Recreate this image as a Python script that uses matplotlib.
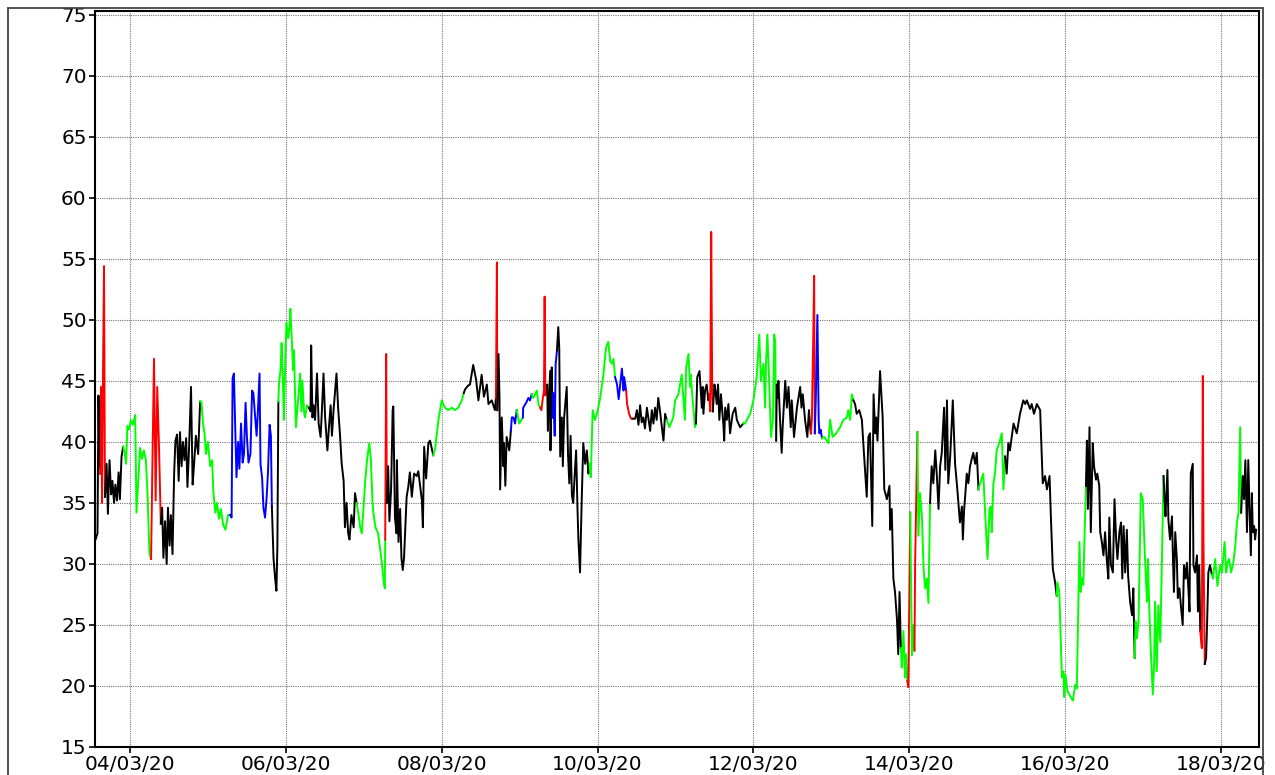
import datetime as dt
import numpy as np
import matplotlib
matplotlib.use("Agg")
import matplotlib.pyplot as plt
import matplotlib.dates as mdates
from matplotlib.patches import Rectangle

start = dt.datetime(2020, 3, 3, 13, 0)

# hours since start, one line per colour run
hours = [
    0.4, 1.0, 1.3, 1.6, 1.8, 1.9,
    2.1, 2.4, 2.7, 3.0, 3.3,
    3.8, 4.2, 4.7, 5.2, 5.6, 6.1, 6.5, 7.0, 7.5, 7.9, 8.4, 8.9,
    9.3, 9.8, 10.2, 10.7, 11.3, 11.9, 12.6, 13.0, 13.6, 14.1, 14.7, 15.3, 15.9, 16.4, 17.0, 17.5,
    17.9, 18.4, 18.9, 19.4, 19.9, 20.5,
    20.9, 21.3, 21.8, 22.3, 22.7, 23.2, 23.6, 24.1, 24.6, 25.0, 25.5, 26.0, 26.4, 26.9, 27.3, 27.8,
    28.3, 28.7, 29.2, 29.8, 30.3, 30.7, 31.3, 32.0, 32.6,
    33.0, 33.5, 34.0, 34.4, 35.0, 35.7, 36.3, 36.7, 37.3, 37.8, 38.4, 39.0, 39.7, 40.4, 41.2, 41.8,
    42.3, 42.6, 43.0, 43.8, 44.3, 44.7, 45.2, 45.7, 46.1, 46.6, 47.0, 47.5, 48.1, 48.6, 49.0, 49.5,
    50.0, 50.4, 50.9, 51.2, 51.7, 52.1, 52.6, 53.1, 53.5, 54.0, 54.4, 54.7,
    55.2, 55.7, 56.1, 56.4, 56.7,
    56.9, 57.4, 57.7, 58.1, 58.4, 58.9, 59.2, 59.7, 60.1, 60.4, 60.9, 61.2, 61.5, 62.1, 62.8, 63.4,
    63.8, 64.1, 64.6, 64.9, 65.5, 66.1,
    66.6, 66.8, 67.2, 67.5, 68.0, 68.6, 69.1, 69.7, 70.1, 70.6, 71.1, 71.8, 72.3, 72.8, 73.2, 73.7,
    74.6, 75.1, 75.7, 76.2, 76.8, 77.2, 77.7, 78.2, 78.6, 79.2, 79.9, 80.3, 80.8,
    81.4, 81.9, 82.4, 82.9, 83.4, 84.0, 84.7, 85.2, 85.7, 86.0, 86.6, 87.4, 88.2, 88.6, 89.2, 89.5, 89.6,
    89.9, 90.1,
    90.5, 90.9, 91.4, 91.9, 92.1, 92.6, 93.1, 93.2, 93.7, 94.2, 94.6, 95.0, 95.4, 96.2, 96.7, 97.2,
    97.8, 98.5, 99.3, 99.8, 100.9, 101.2, 101.6, 102.2, 102.9, 103.4, 104.4,
    105.0, 106.0, 107.0, 108.0, 109.0, 110.1, 111.1, 112.1, 113.2, 113.8,
    114.2, 115.1, 115.7, 116.7, 117.6, 118.3, 119.3, 120.0, 120.9, 121.4, 122.4, 123.4, 123.7,
    124.0, 124.1,
    124.5, 124.8, 125.0, 125.5, 126.0, 126.2, 126.6, 127.0, 127.8, 128.3,
    128.6, 129.1, 129.6, 130.1,
    130.9, 132.0,
    132.1, 133.0, 133.7, 134.2, 134.7,
    135.2, 136.3, 136.8, 137.3,
    137.7, 138.1, 138.5, 138.7, 138.9, 139.4,
    139.5, 139.7, 140.4, 140.5, 140.9, 141.1,
    141.4, 141.8, 142.1, 142.5,
    142.9, 143.2, 143.5, 144.0, 144.3, 144.7, 145.5, 145.9, 146.3, 146.7, 147.1, 147.5, 148.1, 148.4,
    148.8, 149.1, 149.6, 150.1, 150.6, 151.2, 151.7, 152.2, 152.5,
    152.9, 153.5, 154.2, 155.0, 155.8, 156.8, 157.6, 158.3, 158.9, 159.4, 159.9, 160.4,
    161.0, 161.5, 161.9, 162.5, 163.0, 163.2, 163.8,
    164.1, 164.7, 165.3, 165.8,
    166.6, 167.1, 167.6, 168.1, 168.6, 169.1, 169.6, 170.2, 171.2, 171.7, 172.2, 172.7, 173.2, 173.7,
    174.2, 174.8, 175.3, 175.8, 176.3,
    177.1, 178.3, 178.9, 179.9, 180.9, 181.9, 182.3, 183.0, 183.5, 183.7, 184.3, 185.0, 185.3,
    185.7, 186.4, 187.1, 187.4, 187.6, 188.1, 188.6, 189.1, 189.4,
    189.7, 190.0, 190.3, 190.5,
    191.0, 191.3, 191.7, 192.1, 192.5, 193.0, 193.8, 194.0, 194.3, 194.8, 195.3, 195.8, 196.6, 197.4,
    197.9, 198.9, 199.9,
    200.4, 202.0, 203.0, 204.0, 204.8, 205.3, 206.1, 206.6, 206.9, 207.3, 207.7, 208.4, 209.0, 209.4,
    209.7, 210.0,
    210.2, 210.4, 210.7, 211.2, 211.7, 212.0, 212.8, 213.3, 213.8, 214.5, 214.8, 215.5, 216.4, 217.4,
    217.8, 218.2, 218.9, 219.6, 220.1, 220.5, 220.7,
    221.0, 221.5, 221.7, 221.9,
    222.2, 222.7, 223.1, 223.3, 223.7, 224.1,
    224.8, 225.6, 226.1, 226.6, 227.4, 228.5, 229.7, 230.7, 231.8, 232.2, 232.8, 233.3, 233.8,
    234.3, 234.8, 235.6, 236.4, 237.1, 237.9, 238.4, 238.9, 239.6, 240.0, 240.5, 240.8, 241.2, 242.0,
    242.8, 243.3, 244.1, 244.9, 245.1, 245.6, 246.1, 246.6, 247.2, 247.6, 248.0, 248.4,
    248.7, 249.2, 249.7, 250.0, 250.4,
    250.7, 251.3,
    251.8, 252.3, 252.6,
    252.8, 253.5,
    253.8, 254.3, 254.9, 255.4, 255.9, 256.4, 256.9, 257.4,
    257.6, 257.9, 258.4, 259.0, 259.5, 260.0, 260.5, 261.0, 261.7, 262.1, 262.6, 263.0, 263.6, 264.4,
    265.1, 265.8, 266.6, 267.2, 267.5, 267.9, 268.2, 268.7, 269.2, 269.7, 270.7, 271.3, 271.8, 272.3,
    272.8, 273.8, 274.3, 275.1, 275.7, 276.1, 276.4, 276.9, 277.4, 277.9, 278.7, 279.5, 280.0, 280.5,
    281.0, 281.5, 282.0, 283.1, 284.1, 285.1, 286.1, 286.7, 287.2, 288.2, 288.7, 289.4, 290.3, 291.3,
    292.1, 292.8, 293.4, 294.2, 294.6, 295.2, 295.9, 296.4,
    296.6, 297.2, 298.0, 298.5, 298.7, 299.1, 299.7, 300.3, 300.7, 301.4, 302.1, 302.6, 303.1, 303.4,
    303.8, 304.2, 304.6, 304.9, 305.4,
    305.7, 306.0, 306.5, 306.9, 307.5, 307.9, 308.5, 308.9, 309.5, 309.8, 310.3, 310.8, 311.3, 311.8,
    312.3, 312.6, 313.1, 313.7, 314.2, 314.7, 315.1, 315.7, 316.2, 316.6, 317.0, 317.5, 318.0, 318.4,
    319.0, 319.6, 320.0, 320.4,
    320.7, 321.1, 321.6, 322.3, 322.9, 323.6, 324.2, 324.5, 324.9, 325.4, 326.0, 326.4, 326.7, 327.2,
    327.7, 328.3, 328.8, 329.3,
    329.6, 329.9, 330.5, 330.8, 331.3, 331.9, 332.2, 332.5, 332.9, 333.4, 333.7, 334.2, 334.7, 335.2,
    335.6, 336.1, 336.5, 337.0, 337.3, 337.5, 337.7, 338.3, 338.5, 339.0, 339.6, 339.9, 340.3, 340.6,
    341.1, 341.4, 341.6, 342.0,
    342.4, 342.7, 343.1, 343.6, 344.2,
    344.5, 345.2, 345.9, 346.7, 347.3, 348.1, 348.6, 349.0, 349.5, 350.1, 350.8, 351.4, 351.9, 352.4,
    352.9, 353.2,
    353.7, 354.1, 354.5, 355.0, 355.4, 355.8, 356.2, 356.5, 356.8, 357.2, 357.5, 357.8,
]

values = [
    32.0, 32.5, 43.8, 38.0, 43.0, 37.4,
    44.5, 35.0, 45.7, 54.4, 35.5,
    38.2, 34.1, 38.5, 35.7, 36.8, 35.0, 36.5, 35.2, 37.5, 35.3, 38.8, 39.6,
    39.2, 38.2, 41.3, 41.0, 41.8, 41.4, 42.2, 34.2, 37.0, 39.5, 38.6, 39.3, 38.5, 35.8, 30.9, 30.4,
    38.0, 46.8, 35.2, 44.5, 40.0, 33.3,
    34.6, 30.5, 33.5, 30.0, 34.6, 31.5, 34.0, 30.8, 37.4, 40.1, 40.6, 36.8, 40.8, 38.0, 40.0, 38.5,
    40.3, 36.3, 39.5, 44.5, 36.5, 38.0, 40.5, 39.0, 43.3,
    43.3, 41.5, 40.6, 39.0, 40.0, 38.0, 38.5, 35.8, 34.2, 35.0, 33.7, 34.5, 33.2, 32.8, 34.0, 34.0,
    33.8, 45.2, 45.6, 37.1, 40.0, 37.8, 41.5, 38.3, 39.0, 43.2, 40.5, 38.3, 39.0, 44.2, 44.0, 42.2,
    40.5, 42.5, 45.6, 38.2, 37.0, 34.6, 33.8, 35.5, 37.5, 41.4, 40.5, 34.7,
    30.5, 28.8, 27.8, 31.5, 43.3,
    44.8, 46.0, 48.1, 45.0, 41.8, 47.5, 49.8, 48.5, 49.3, 50.9, 48.0, 45.9, 47.5, 41.2, 43.5, 45.6,
    42.5, 45.0, 42.5, 42.0, 43.0, 42.8,
    42.5, 47.9, 42.0, 43.0, 41.8, 45.6, 41.5, 40.4, 42.5, 45.6, 42.0, 39.3, 41.3, 43.0, 40.5, 42.6,
    45.6, 42.8, 40.5, 38.2, 36.8, 33.0, 35.0, 32.5, 32.0, 34.0, 33.0, 35.8, 35.0,
    34.0, 33.0, 32.5, 34.5, 36.6, 38.5, 39.9, 38.5, 35.0, 34.1, 33.0, 32.5, 30.9, 30.0, 28.4, 28.0, 32.0,
    47.2, 35.0,
    38.0, 33.5, 36.0, 42.6, 42.9, 33.8, 32.5, 38.5, 31.8, 34.5, 30.5, 29.5, 30.5, 35.5, 36.3, 37.5,
    35.5, 37.4, 37.2, 37.6, 35.2, 33.0, 39.6, 37.0, 39.9, 40.1, 38.9,
    39.5, 41.8, 43.4, 42.8, 42.6, 42.8, 42.6, 42.8, 43.4, 44.0,
    44.3, 44.6, 44.7, 46.3, 45.1, 43.4, 45.5, 43.7, 44.7, 43.1, 43.4, 42.6, 43.6,
    54.7, 42.6,
    47.2, 43.6, 36.1, 42.0, 38.0, 39.9, 36.4, 40.4, 39.3, 40.9,
    42.0, 42.0, 41.5, 42.6,
    41.5, 42.0,
    42.8, 43.2, 43.6, 43.4, 43.9,
    43.6, 44.2, 43.1, 42.8,
    42.6, 43.5, 44.2, 51.9, 43.8, 44.5,
    44.7, 40.9, 45.8, 39.3, 46.1, 42.0,
    44.0, 40.5, 46.4, 47.5,
    49.4, 47.7, 38.8, 42.0, 38.0, 42.0, 44.5, 39.0, 36.6, 40.5, 35.6, 35.0, 38.0, 39.3,
    34.7, 32.0, 29.3, 35.0, 39.9, 38.2, 39.3, 37.4, 38.2,
    37.1, 42.6, 41.8, 42.5, 43.6, 45.5, 47.7, 48.2, 46.6, 46.4, 46.8, 45.3,
    44.7, 43.5, 44.5, 46.0, 44.2, 45.3, 44.2,
    43.1, 42.3, 41.9, 41.9,
    41.9, 42.6, 41.4, 43.0, 41.6, 42.0, 41.1, 42.8, 40.9, 42.6, 41.5, 42.8, 41.8, 43.6,
    42.6, 41.2, 40.1, 42.3, 41.8,
    41.2, 42.0, 43.4, 43.9, 45.5, 41.8, 46.1, 47.2, 44.5, 45.5, 43.4, 41.2, 41.5,
    45.3, 45.8, 42.8, 44.5, 42.3, 44.2, 44.7, 43.4, 43.9,
    42.5, 57.2, 44.5, 42.5,
    44.7, 44.2, 43.1, 44.7, 41.8, 43.9, 41.2, 40.1, 42.8, 41.8, 43.1, 40.7, 42.3, 42.8,
    41.8, 41.2, 41.5,
    41.5, 42.3, 43.4, 45.3, 48.8, 45.0, 46.4, 42.8, 46.6, 48.8, 46.1, 40.4, 41.8, 48.8,
    48.2, 40.1,
    44.7, 43.6, 45.0, 41.8, 39.1, 41.2, 45.0, 42.8, 44.5, 41.2, 43.4, 40.4, 42.8, 44.5,
    42.8, 43.9, 41.8, 40.4, 42.6, 41.2, 40.7,
    41.8, 49.9, 53.6, 40.7,
    43.4, 50.4, 41.8, 40.7, 41.0, 40.3,
    40.4, 40.1, 39.9, 41.8, 40.4, 40.7, 41.2, 41.8, 42.0, 42.6, 41.8, 43.9, 43.4,
    43.1, 42.3, 42.6, 41.8, 38.8, 35.5, 40.4, 40.7, 33.1, 43.9, 40.7, 42.0, 40.1, 45.8,
    42.0, 36.1, 35.3, 36.4, 32.8, 34.5, 28.8, 27.7, 25.5, 22.6, 27.7, 23.1,
    21.5, 24.5, 20.7, 22.6, 20.4,
    19.9, 34.2,
    22.5, 25.0, 22.9,
    30.1, 40.8,
    32.3, 35.8, 33.9, 29.6, 28.0, 28.8, 26.8, 35.0,
    36.4, 38.0, 36.6, 39.3, 37.2, 34.5, 38.0, 39.1, 42.8, 37.7, 43.4, 36.6, 38.8, 43.4,
    38.2, 36.1, 33.4, 34.7, 32.0, 34.5, 35.5, 37.4, 36.6, 38.0, 39.1, 38.2, 39.1, 36.1,
    36.6, 37.4, 34.5, 30.4, 34.5, 34.7, 32.6, 36.6, 37.4, 39.3, 39.9, 40.7, 36.1, 38.8,
    37.4, 39.9, 39.3, 41.5, 40.7, 42.3, 43.4, 43.1, 43.4, 42.7, 43.1, 42.3, 43.1, 42.6,
    36.6, 37.2, 36.1, 37.2, 33.9, 29.6, 28.5, 27.4,
    28.5, 27.7, 20.7, 21.2, 19.1, 20.9, 19.6, 19.3, 19.1, 18.8, 20.1, 19.8, 27.2, 31.8,
    27.7, 28.8, 28.3, 31.5, 36.4,
    40.1, 34.5, 41.2, 32.6, 39.9, 38.0, 36.9, 37.4, 36.4, 32.6, 31.8, 30.7, 32.6, 30.4,
    28.8, 33.8, 29.9, 29.3, 35.3, 32.0, 30.4, 32.6, 33.4, 28.8, 33.1, 29.3, 32.8, 29.0,
    26.9, 25.8, 28.0, 22.3,
    25.3, 23.9, 25.3, 35.8, 35.3, 30.4, 26.9, 30.4, 26.4, 22.8, 19.3, 21.8, 26.9, 21.2,
    26.6, 23.6, 30.4, 37.2,
    35.3, 33.9, 37.7, 33.6, 32.0, 33.9, 30.4, 27.7, 32.6, 30.4, 27.2, 28.0, 26.4, 25.0,
    29.9, 28.8, 30.1, 27.7, 26.1, 33.1, 37.4, 38.2, 29.9, 29.3, 30.7, 26.1, 29.9, 24.5,
    23.1, 45.4, 31.8, 21.8,
    22.3, 25.0, 29.3, 29.9, 29.1,
    28.8, 30.4, 28.2, 29.9, 29.3, 31.8, 29.3, 30.1, 30.4, 29.3, 30.1, 31.5, 33.4, 34.2,
    41.2, 34.2,
    37.2, 35.3, 38.5, 32.6, 38.5, 34.3, 30.7, 35.8, 32.6, 33.1, 32.0, 32.8,
]

# hour at which each colour run begins and the colour of that run
run_start = [
    0.4, 2.1, 3.8, 9.3, 17.9, 20.9, 33.0, 42.3, 55.2, 56.9, 66.6, 81.4, 89.9, 90.5,
    105.0, 114.2, 124.0, 124.5, 128.6, 130.9, 132.1, 135.2, 137.7, 139.5, 141.4, 142.9,
    152.9, 161.0, 164.1, 166.6, 177.1, 185.7, 189.7, 191.0, 200.4, 210.2, 221.0, 222.2,
    224.8, 234.3, 248.7, 250.7, 251.8, 252.8, 253.8, 257.6, 272.8, 281.0, 296.6, 305.7,
    320.7, 329.6, 341.1, 342.4, 344.5, 353.7,
]
run_code = [
    "k", "r", "k", "g", "r", "k", "g", "b", "k", "g", "k", "g", "r", "k",
    "g", "k", "r", "k", "b", "g", "b", "g", "r", "k", "b", "k",
    "g", "b", "r", "k", "g", "k", "r", "k", "g", "k", "r", "b",
    "g", "k", "g", "r", "g", "r", "g", "k", "g", "k", "g", "k",
    "g", "k", "r", "k", "g", "k",
]

palette = {"k": "#000000", "g": "#00ff00", "b": "#0000ff", "r": "#ff0000"}

plt.rcParams["font.family"] = ["DejaVu Sans"]

x = mdates.date2num([start + dt.timedelta(hours=h) for h in hours])
y = np.array(values)
run_of = np.searchsorted(run_start, hours, side="right") - 1

fig = plt.figure(figsize=(12.75, 7.75), dpi=100)
ax = fig.add_axes([95 / 1275, 1 - 747 / 775, 1164 / 1275, 736 / 775])

# each run is drawn from the last point of the previous run so the trace stays joined
breaks = np.flatnonzero(np.diff(run_of)) + 1
for s, e in zip(np.r_[0, breaks], np.r_[breaks, len(x)]):
    a = max(s - 1, 0)
    ax.plot(x[a:e], y[a:e], color=palette[run_code[run_of[s]]], lw=1.4)

ax.set_ylim(15, 75.3)
ax.set_yticks(range(15, 80, 5))
ax.set_xlim(start + dt.timedelta(hours=0.23), start + dt.timedelta(hours=358.7))
ax.xaxis.set_major_locator(mdates.DayLocator(bymonthday=range(4, 19, 2)))
ax.xaxis.set_major_formatter(mdates.DateFormatter("%d/%m/%y"))

ax.grid(True, color="#777777", linestyle=(0, (1, 1)), linewidth=0.8)
ax.tick_params(direction="out", length=4, width=1.2, labelsize=14.5, pad=2, colors="black")
for sp in ax.spines.values():
    sp.set_linewidth(1.5)

# outer frame around the plot area
fig.patches.append(Rectangle((8 / 1275, -0.05), 1255 / 1275, 1.05 - 8 / 775,
                             transform=fig.transFigure, fill=False,
                             edgecolor="#444444", lw=1.3))

fig.savefig("out.png", dpi=100)
